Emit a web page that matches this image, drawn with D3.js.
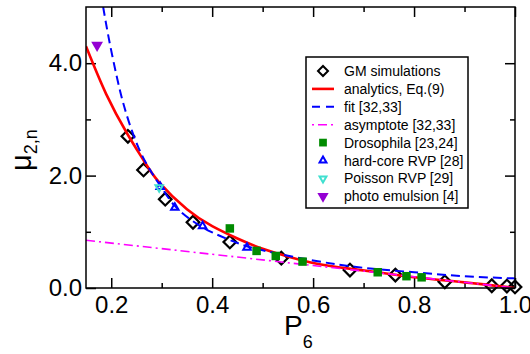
<!DOCTYPE html>
<html>
<head>
<meta charset="utf-8">
<script src="https://cdn.jsdelivr.net/npm/d3@7"></script>
<style>
  body { margin: 0; background: #fff; }
  svg { font-family: "Liberation Sans", Arial, sans-serif; }
</style>
</head>
<body>
<figure id="chart" style="margin:0"></figure>
<script>
// GM simulations (open diamonds)
const gmP  = [0.233, 0.264, 0.307, 0.362, 0.435, 0.537, 0.673, 0.763, 0.861, 0.954, 0.984, 1.0];
const gmMu = [2.70, 2.10, 1.58, 1.17, 0.82, 0.53, 0.32, 0.23, 0.11, 0.04, 0.035, 0.02];

// analytics, Eq.(9)
const anaP  = [0.15, 0.19, 0.232, 0.265, 0.295, 0.35, 0.4, 0.45, 0.5, 0.579, 0.65, 0.728, 0.8, 0.9, 1.0];
const anaMu = [4.30, 3.45, 2.74, 2.26, 1.88, 1.40, 1.10, 0.88, 0.70, 0.49, 0.37, 0.28, 0.19, 0.10, 0.0];

// fit [32,33] - blue dashed
const fitP  = [0.184, 0.195, 0.21, 0.225, 0.2425, 0.26, 0.279, 0.3, 0.326, 0.36, 0.4, 0.45, 0.5, 0.6, 0.7, 0.8, 0.9, 1.0];
const fitMu = [5.0, 4.45, 3.80, 3.25, 2.76, 2.38, 2.07, 1.78, 1.46, 1.20, 0.99, 0.80, 0.67, 0.49, 0.36, 0.28, 0.21, 0.17];

// asymptote [32,33] - magenta dash-dot
const asyP  = [0.15, 0.4, 0.6, 0.8, 1.0];
const asyMu = [0.85, 0.60, 0.40, 0.20, 0.0];

// Drosophila [23,24]
const droP  = [0.435, 0.488, 0.526, 0.579, 0.728, 0.785, 0.815];
const droMu = [1.06, 0.66, 0.57, 0.47, 0.28, 0.21, 0.19];

// hard-core RVP [28]
const hcP  = [0.297, 0.326, 0.381, 0.469];
const hcMu = [1.80, 1.43, 1.10, 0.72];

// Poisson RVP [29]
const poP  = [0.295];
const poMu = [1.79];

// photo emulsion [4]
const phP  = [0.172];
const phMu = [4.32];

const xMajor = [0.2, 0.4, 0.6, 0.8, 1.0];
const xMinor = [0.3, 0.5, 0.7, 0.9];
const yMajor = [0, 2, 4];
const yMinor = [1, 3];

const legendLabels = ["GM simulations", "analytics, Eq.(9)", "fit [32,33]", "asymptote [32,33]",
  "Drosophila [23,24]", "hard-core RVP [28]", "Poisson RVP [29]", "photo emulsion [4]"];

// set the dimensions and margins of the graph
const W = 530, H = 354;
const margin = {top: 7, right: 15, bottom: 66, left: 86},
  width = W - margin.left - margin.right,
  height = H - margin.top - margin.bottom;

const svg0 = d3.select("figure#chart")
  .append("svg")
  .attr("width", W)
  .attr("height", H);

const svg = svg0.append("g")
  .attr("transform", "translate(" + margin.left + "," + margin.top + ")");

const x = d3.scaleLinear().domain([0.15, 1.0]).range([0, width]);
const y = d3.scaleLinear().domain([0, 5]).range([height, 0]);

const zip = (a, b) => a.map((v, i) => [v, b[i]]);

// clip for curves
svg.append("clipPath").attr("id", "clip")
  .append("rect").attr("width", width).attr("height", height);

// axes with inward ticks
function styleAxis(g) {
  g.select(".domain").remove();
  g.selectAll("line").attr("stroke", "#000").attr("stroke-width", 1.5);
  g.selectAll("text").attr("font-size", 24).attr("fill", "#000")
    .attr("font-family", "'Liberation Sans', Arial, sans-serif");
}

svg.append("g")
  .attr("transform", `translate(0, ${height})`)
  .call(d3.axisBottom(x).tickValues(xMajor).tickSize(-10).tickPadding(8)
    .tickFormat(d3.format(".1f")))
  .call(styleAxis);
svg.append("g")
  .attr("transform", `translate(0, ${height})`)
  .call(d3.axisBottom(x).tickValues(xMinor).tickSize(-5).tickFormat(""))
  .call(styleAxis);
svg.append("g")
  .call(d3.axisTop(x).tickValues(xMajor).tickSize(-10).tickFormat(""))
  .call(styleAxis);
svg.append("g")
  .call(d3.axisTop(x).tickValues(xMinor).tickSize(-5).tickFormat(""))
  .call(styleAxis);

svg.append("g")
  .call(d3.axisLeft(y).tickValues(yMajor).tickSize(-10).tickPadding(4)
    .tickFormat(d3.format(".1f")))
  .call(styleAxis);
svg.append("g")
  .call(d3.axisLeft(y).tickValues(yMinor).tickSize(-5).tickFormat(""))
  .call(styleAxis);
svg.append("g")
  .attr("transform", `translate(${width}, 0)`)
  .call(d3.axisRight(y).tickValues(yMajor).tickSize(-10).tickFormat(""))
  .call(styleAxis);
svg.append("g")
  .attr("transform", `translate(${width}, 0)`)
  .call(d3.axisRight(y).tickValues(yMinor).tickSize(-5).tickFormat(""))
  .call(styleAxis);

const line = d3.line()
  .x(d => x(d[0]))
  .y(d => y(d[1]))
  .curve(d3.curveNatural);

const sym = (type, size) => d3.symbol().type(type).size(size)();

// GM simulations first
svg.append("g").selectAll("path")
  .data(zip(gmP, gmMu))
  .join("path")
  .attr("d", sym(d3.symbolSquare, 80))
  .attr("transform", d => `translate(${x(d[0])},${y(d[1])}) rotate(45)`)
  .attr("fill", "none")
  .attr("stroke", "#000")
  .attr("stroke-width", 2.2);

const curves = svg.append("g").attr("clip-path", "url(#clip)");

curves.append("path")
  .datum(zip(anaP, anaMu))
  .attr("d", line)
  .attr("fill", "none")
  .attr("stroke", "#ff0000")
  .attr("stroke-width", 2.6);

curves.append("path")
  .datum(zip(fitP, fitMu))
  .attr("d", line)
  .attr("fill", "none")
  .attr("stroke", "#0000ff")
  .attr("stroke-width", 2)
  .attr("stroke-dasharray", "9,5");

curves.append("path")
  .datum(zip(asyP, asyMu))
  .attr("d", line)
  .attr("fill", "none")
  .attr("stroke", "#ff00ff")
  .attr("stroke-width", 1.6)
  .attr("stroke-dasharray", "9,4,2,4");

// Drosophila
svg.append("g").selectAll("path")
  .data(zip(droP, droMu))
  .join("path")
  .attr("d", sym(d3.symbolSquare, 72))
  .attr("transform", d => `translate(${x(d[0])},${y(d[1])})`)
  .attr("fill", "#008b00");

// hard-core RVP
svg.append("g").selectAll("path")
  .data(zip(hcP, hcMu))
  .join("path")
  .attr("d", sym(d3.symbolTriangle2, 40))
  .attr("transform", d => `translate(${x(d[0])},${y(d[1])})`)
  .attr("fill", "none")
  .attr("stroke", "#0000ff")
  .attr("stroke-width", 2);

// Poisson RVP
svg.append("g").selectAll("path")
  .data(zip(poP, poMu))
  .join("path")
  .attr("d", sym(d3.symbolTriangle2, 40))
  .attr("transform", d => `translate(${x(d[0])},${y(d[1])}) rotate(180)`)
  .attr("fill", "none")
  .attr("stroke", "#40e0d0")
  .attr("stroke-width", 2);

// photo emulsion
svg.append("g").selectAll("path")
  .data(zip(phP, phMu))
  .join("path")
  .attr("d", sym(d3.symbolTriangle, 60))
  .attr("transform", d => `translate(${x(d[0])},${y(d[1])}) rotate(180)`)
  .attr("fill", "#9400d3");

// frame
svg.append("rect")
  .attr("width", width).attr("height", height)
  .attr("fill", "none").attr("stroke", "#000").attr("stroke-width", 1.5);

// axis titles
const ylab = svg0.append("text")
  .attr("transform", "translate(31,150) rotate(-90)")
  .attr("text-anchor", "middle")
  .attr("font-size", 29);
ylab.append("tspan").text("μ");
ylab.append("tspan").attr("font-size", 18).attr("dy", 6).text("2,n");

const xlab = svg0.append("text")
  .attr("x", 284).attr("y", 335)
  .attr("font-size", 28);
xlab.append("tspan").text("P");
xlab.append("tspan").attr("font-size", 18).attr("dy", 13).text("6");

// legend
const lg = svg0.append("g").attr("transform", "translate(306,57)");
lg.append("rect")
  .attr("width", 162).attr("height", 151)
  .attr("fill", "#fff").attr("stroke", "#000").attr("stroke-width", 1.5);

const rowY = i => 14 + i * 17.9;
const sx = 17, lx0 = 6, lx1 = 28;

lg.selectAll("text.lbl")
  .data(legendLabels)
  .join("text")
  .attr("class", "lbl")
  .attr("x", 38)
  .attr("y", (d, i) => rowY(i) + 5)
  .attr("font-size", 14)
  .text(d => d);

lg.append("path").attr("d", sym(d3.symbolSquare, 50))
  .attr("transform", `translate(${sx},${rowY(0)}) rotate(45)`)
  .attr("fill", "none").attr("stroke", "#000").attr("stroke-width", 2);
lg.append("line").attr("x1", lx0).attr("x2", lx1).attr("y1", rowY(1)).attr("y2", rowY(1))
  .attr("stroke", "#ff0000").attr("stroke-width", 2.6);
lg.append("line").attr("x1", lx0).attr("x2", lx1).attr("y1", rowY(2)).attr("y2", rowY(2))
  .attr("stroke", "#0000ff").attr("stroke-width", 2).attr("stroke-dasharray", "8,6");
lg.append("line").attr("x1", lx0).attr("x2", lx1).attr("y1", rowY(3)).attr("y2", rowY(3))
  .attr("stroke", "#ff00ff").attr("stroke-width", 1.6).attr("stroke-dasharray", "2,4,9,4");
lg.append("path").attr("d", sym(d3.symbolSquare, 60))
  .attr("transform", `translate(${sx},${rowY(4)})`).attr("fill", "#008b00");
lg.append("path").attr("d", sym(d3.symbolTriangle2, 34))
  .attr("transform", `translate(${sx},${rowY(5)})`)
  .attr("fill", "none").attr("stroke", "#0000ff").attr("stroke-width", 2);
lg.append("path").attr("d", sym(d3.symbolTriangle2, 34))
  .attr("transform", `translate(${sx},${rowY(6)}) rotate(180)`)
  .attr("fill", "none").attr("stroke", "#40e0d0").attr("stroke-width", 2);
lg.append("path").attr("d", sym(d3.symbolTriangle, 55))
  .attr("transform", `translate(${sx},${rowY(7)}) rotate(180)`)
  .attr("fill", "#9400d3");
</script>
</body>
</html>
